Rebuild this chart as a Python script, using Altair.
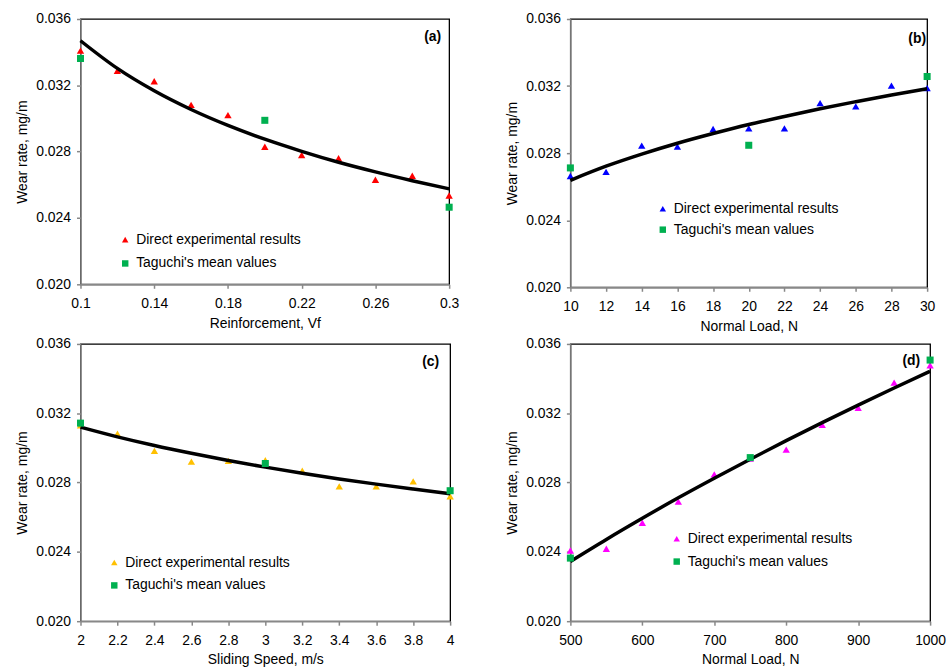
import altair as alt
import pandas as pd

FONT = "Liberation Sans"
EXP = "Direct experimental results"
TAG = "Taguchi's mean values"
GREEN = "#00B050"
Y_TICKS = [0.020, 0.024, 0.028, 0.032, 0.036]

# Panel (a): Reinforcement, Vf
xa = [0.10, 0.12, 0.14, 0.16, 0.18, 0.20, 0.22, 0.24, 0.26, 0.28, 0.30]
ya_exp = [0.03409, 0.03288, 0.03225, 0.03082, 0.03020, 0.02830, 0.02780, 0.02760, 0.02631, 0.02655, 0.02536]
xa_tag = [0.10, 0.20, 0.30]
ya_tag = [0.03362, 0.02989, 0.02465]
ya_fit = [0.03469, 0.03302, 0.03167, 0.03054, 0.02958, 0.02875, 0.02802, 0.02736, 0.02678, 0.02625, 0.02576]
xa_ticks = [0.1, 0.14, 0.18, 0.22, 0.26, 0.3]

# Panel (b): Normal Load, N
xb = [10, 12, 14, 16, 18, 20, 22, 24, 26, 28, 30]
yb_exp = [0.02664, 0.02688, 0.02845, 0.02839, 0.02944, 0.02948, 0.02948, 0.03098, 0.03079, 0.03203, 0.03188]
xb_tag = [10, 20, 30]
yb_tag = [0.02712, 0.02847, 0.03257]
yb_fit = [0.02638, 0.02722, 0.02794, 0.02859, 0.02917, 0.02971, 0.03019, 0.03065, 0.03107, 0.03147, 0.03184]
xb_ticks = [10, 12, 14, 16, 18, 20, 22, 24, 26, 28, 30]

# Panel (c): Sliding Speed, m/s
xc = [2.0, 2.2, 2.4, 2.6, 2.8, 3.0, 3.2, 3.4, 3.6, 3.8, 4.0]
yc_exp = [0.03130, 0.03082, 0.02983, 0.02921, 0.02925, 0.02929, 0.02868, 0.02778, 0.02778, 0.02807, 0.02721]
xc_tag = [2.0, 3.0, 4.0]
yc_tag = [0.03143, 0.02910, 0.02753]
yc_fit = [0.03120, 0.03064, 0.03014, 0.02969, 0.02927, 0.02889, 0.02854, 0.02821, 0.02791, 0.02763, 0.02736]
xc_ticks = [2, 2.2, 2.4, 2.6, 2.8, 3, 3.2, 3.4, 3.6, 3.8, 4]

# Panel (d): Normal Load, N
xd = [500, 550, 600, 650, 700, 750, 800, 850, 900, 950, 1000]
yd_exp = [0.02408, 0.02418, 0.02568, 0.02690, 0.02847, 0.02938, 0.02990, 0.03133, 0.03232, 0.03377, 0.03476]
xd_tag = [500, 750, 1000]
yd_tag = [0.02364, 0.02944, 0.03507]
yd_fit = [0.02345, 0.02472, 0.02594, 0.02712, 0.02825, 0.02935, 0.03042, 0.03146, 0.03247, 0.03346, 0.03442]
xd_ticks = [500, 600, 700, 800, 900, 1000]


def panel(xs, y_exp, x_tag, y_tag, y_fit, color, ticks, fmt, xtitle, tag,
          w, h, legx, legy, rowpad, tagx, tagy):
    exp = pd.DataFrame({"x": xs, "y": y_exp, "s": EXP})
    tg = pd.DataFrame({"x": x_tag, "y": y_tag, "s": TAG})
    fit = pd.DataFrame({"x": xs, "y": y_fit})
    xsc = alt.Scale(domain=[ticks[0], ticks[-1]], nice=False, zero=False)
    ysc = alt.Scale(domain=[0.020, 0.036], nice=False, zero=False)
    xenc = alt.X("x:Q", scale=xsc, axis=alt.Axis(values=ticks, tickCount=len(ticks), format=fmt,
                                                 title=xtitle, labelFlush=False, labelOverlap=False,
                                                 labelPadding=8, titlePadding=6))
    yenc = alt.Y("y:Q", scale=ysc, axis=alt.Axis(values=Y_TICKS, tickCount=len(Y_TICKS), format=".3f",
                                                 title="Wear rate, mg/m", labelFlush=False,
                                                 labelOverlap=False, labelPadding=6, titlePadding=6))
    leg = alt.Legend(orient="none", legendX=legx, legendY=legy, title=None,
                     rowPadding=rowpad, labelFont=FONT, labelFontSize=14,
                     labelColor="black", symbolSize=42, labelLimit=400, padding=0,
                     symbolStrokeWidth=0)
    col = alt.Color("s:N", scale=alt.Scale(domain=[EXP, TAG], range=[color, GREEN]), legend=leg)
    shp = alt.Shape("s:N", scale=alt.Scale(domain=[EXP, TAG], range=["triangle-up", "square"]), legend=leg)
    tri = alt.Chart(exp).mark_point(filled=True, size=55, opacity=1).encode(
        x=xenc, y=yenc, color=col, shape=shp)
    line = alt.Chart(fit).mark_line(color="black", strokeWidth=3.5, interpolate="monotone").encode(
        x="x:Q", y="y:Q")
    sq = alt.Chart(tg).mark_point(filled=True, size=50, opacity=1).encode(
        x="x:Q", y="y:Q", color=col, shape=shp)
    lab = alt.Chart(pd.DataFrame({"t": [tag]})).mark_text(
        font=FONT, fontSize=14, fontWeight="bold", align="right", baseline="middle",
        color="black").encode(x=alt.value(tagx), y=alt.value(tagy), text="t:N")
    return alt.layer(tri, line, sq, lab).properties(width=w, height=h)


pa = panel(xa, ya_exp, xa_tag, ya_tag, ya_fit, "#FF0000", xa_ticks, ".2~f",
           "Reinforcement, Vf", "(a)", 371, 267, 38, 215, 10, 363, 18)
pb = panel(xb, yb_exp, xb_tag, yb_tag, yb_fit, "#0000FF", xb_ticks, "d",
           "Normal Load, N", "(b)", 359, 270, 86, 184, 7, 358, 20)
pc = panel(xc, yc_exp, xc_tag, yc_tag, yc_fit, "#FFC000", xc_ticks, ".1~f",
           "Sliding Speed, m/s", "(c)", 372, 279, 27, 213, 9, 361, 18)
pd_ = panel(xd, yd_exp, xd_tag, yd_tag, yd_fit, "#FF00FF", xd_ticks, "d",
            "Normal Load, N", "(d)", 362, 279, 100, 189, 9, 352, 17)

top = alt.hconcat(pa, pb, spacing=45).resolve_scale(color="independent", shape="independent")
bottom = alt.hconcat(pc, pd_, spacing=47).resolve_scale(color="independent", shape="independent")

chart = alt.vconcat(top, bottom, spacing=2).resolve_scale(
    color="independent", shape="independent"
).properties(
    padding={"left": 15, "top": 9, "right": 0, "bottom": 0},
    background="white"
).configure_view(
    stroke="black", strokeWidth=1.3
).configure_axis(
    grid=False, domainColor="#888888", domainWidth=1.5, tickColor="#888888",
    tickWidth=1.5, tickSize=4, labelFont=FONT, labelFontSize=14, labelColor="black",
    titleFont=FONT, titleFontSize=14, titleFontWeight="normal", titleColor="black"
)

chart.save("out.html", embed_options={"renderer": "svg", "actions": False})
